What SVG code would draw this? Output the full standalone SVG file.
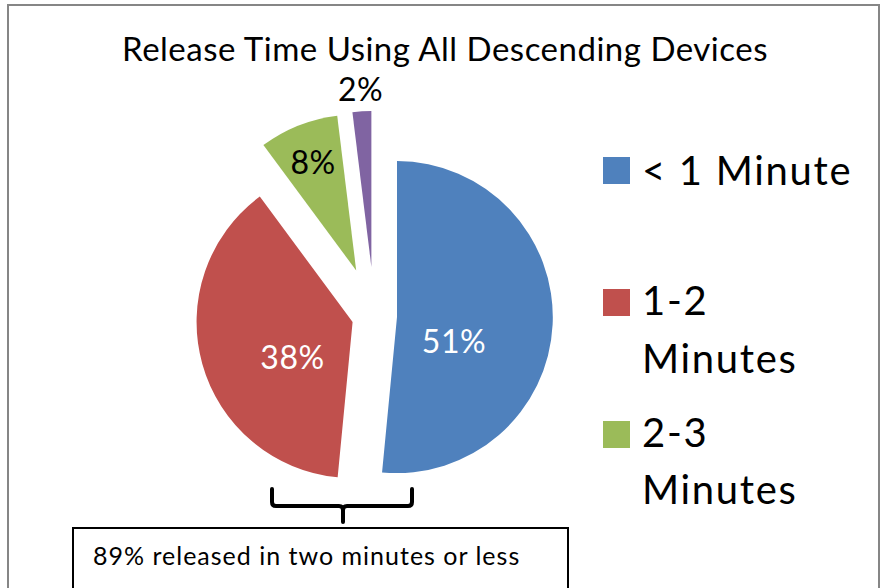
<svg xmlns="http://www.w3.org/2000/svg" width="882" height="588" viewBox="0 0 882 588">
  <style>
    .t { font-family: Lato, "Open Sans", "Liberation Sans", sans-serif; fill: #000; }
    .lbl { font-size: 32px; text-anchor: middle; letter-spacing: 0.5px; }
    .w { fill: #fff; }
    .leg { font-size: 40px; letter-spacing: 1.7px; }
  </style>
  <rect x="8" y="5" width="871" height="600" fill="#fff" stroke="#868686" stroke-width="2"/>
  <text class="t" x="445" y="61" font-size="33" letter-spacing="0.5" text-anchor="middle">Release Time Using All Descending Devices</text>

  <g id="slice-blue">
    <path d="M397,317.1 L397,161.1 A156,156 0 1 1 382.05,472.4 Z" fill="#4F81BD"/>
    <text class="t lbl w" x="454" y="353">51%</text>
  </g>
  <g id="slice-red">
    <path d="M352.6,322 L337.65,477.3 A156,156 0 0 1 259.8,196.6 Z" fill="#C0504D"/>
    <text class="t lbl w" x="292.5" y="368.5">38%</text>
  </g>
  <g id="slice-green">
    <path d="M356.2,270.5 L263.4,145.1 A156,156 0 0 1 337.2,115.7 Z" fill="#9BBB59"/>
    <text class="t lbl" x="313" y="174">8%</text>
  </g>
  <g id="slice-purple">
    <path d="M371.4,267.1 L352.4,112.3 A156,156 0 0 1 371.4,111.1 Z" fill="#8064A2"/>
    <text class="t lbl" x="360.5" y="101">2%</text>
  </g>

  <g id="legend">
    <rect x="603" y="157" width="27" height="27" fill="#4F81BD"/>
    <text class="t leg" x="642" y="185">&lt; 1 Minute</text>
    <rect x="603" y="289" width="27" height="27" fill="#C0504D"/>
    <text class="t leg" x="642" y="315">1-2</text>
    <text class="t leg" x="642" y="373">Minutes</text>
    <rect x="603" y="421" width="27" height="27" fill="#9BBB59"/>
    <text class="t leg" x="642" y="447">2-3</text>
    <text class="t leg" x="642" y="504">Minutes</text>
  </g>

  <g id="connectors">
    <path d="M272,489 L272,502 Q272,506 276,506 L339,506 Q343,506 343,510 L343,522 M343,510 Q343,506 347,506 L408,506 Q412,506 412,502 L412,489" fill="none" stroke="#000" stroke-width="4" stroke-linecap="round" stroke-linejoin="round"/>
  </g>

  <g id="note">
    <rect x="73" y="528" width="495" height="80" fill="#fff" stroke="#000" stroke-width="2"/>
    <text class="t" x="93" y="565" font-size="25" letter-spacing="1">89% released in two minutes or less</text>
  </g>
</svg>
